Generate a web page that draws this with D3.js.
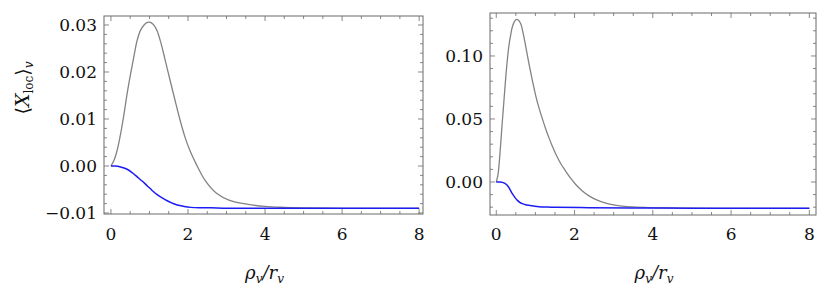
<!DOCTYPE html>
<html>
<head>
<meta charset="utf-8">
<script src="https://cdn.jsdelivr.net/npm/d3@7"></script>
<style>
  body { margin: 0; background: #fff; }
</style>
</head>
<body>
<div id="chart"></div>
<script>
// left panel
const leftGrayX = [0, 0.08, 0.16, 0.25, 0.34, 0.42, 0.51, 0.6, 0.68, 0.77, 0.86, 0.93, 0.99, 1.06, 1.13, 1.2, 1.29, 1.40, 1.53, 1.66, 1.79, 1.92, 2.05, 2.22, 2.44, 2.74, 3.08, 3.52, 4.0, 4.5, 5, 6, 7, 8]
const leftGrayY = [0, 0.0012, 0.0033, 0.0068, 0.0111, 0.0154, 0.0196, 0.0235, 0.0267, 0.0289, 0.0300, 0.0305, 0.0306, 0.0304, 0.0298, 0.0287, 0.0264, 0.0228, 0.0184, 0.0141, 0.0099, 0.0062, 0.0033, 0.0003, -0.0030, -0.0058, -0.0073, -0.0081, -0.0086, -0.0088, -0.0089, -0.0090, -0.0090, -0.0090]
const leftBlueX = [0, 0.1, 0.25, 0.42, 0.55, 0.68, 0.81, 0.94, 1.07, 1.2, 1.33, 1.46, 1.59, 1.72, 1.9, 2.07, 2.3, 2.59, 3.0, 3.97, 5, 6, 7, 8]
const leftBlueY = [0, 0, -0.0002, -0.0007, -0.0014, -0.0023, -0.0032, -0.0042, -0.0052, -0.0061, -0.0068, -0.0074, -0.0079, -0.0083, -0.0086, -0.0088, -0.0089, -0.0089, -0.0090, -0.0090, -0.0090, -0.0090, -0.0090, -0.0090]

// right panel
const rightGrayX = [0, 0.04, 0.07, 0.11, 0.154, 0.2, 0.24, 0.28, 0.325, 0.37, 0.41, 0.46, 0.512, 0.56, 0.623, 0.69, 0.75, 0.81, 0.878, 0.94, 1.006, 1.09, 1.177, 1.26, 1.35, 1.43, 1.52, 1.65, 1.78, 1.9, 2.03, 2.2, 2.37, 2.58, 2.8, 3.0, 3.22, 3.5, 3.9, 4.5, 5, 6, 7, 8]
const rightGrayY = [0, 0.005, 0.0132, 0.029, 0.0476, 0.066, 0.082, 0.096, 0.1085, 0.117, 0.123, 0.127, 0.129, 0.1285, 0.1257, 0.1175, 0.108, 0.098, 0.0873, 0.078, 0.0688, 0.059, 0.0503, 0.0425, 0.0348, 0.0286, 0.0222, 0.0145, 0.0083, 0.0030, -0.0020, -0.0071, -0.0110, -0.0144, -0.0167, -0.0181, -0.0191, -0.0198, -0.0203, -0.0206, -0.0208, -0.0209, -0.0209, -0.0209]
const rightBlueX = [0, 0.1, 0.154, 0.22, 0.28, 0.345, 0.41, 0.475, 0.54, 0.6, 0.665, 0.75, 0.835, 0.96, 1.09, 1.3, 1.52, 2.37, 3.5, 5, 6, 7, 8]
const rightBlueY = [0, 0, -0.0003, -0.0011, -0.0026, -0.0056, -0.0093, -0.0122, -0.0146, -0.0162, -0.0172, -0.0180, -0.0185, -0.0191, -0.0196, -0.0199, -0.0201, -0.0204, -0.0206, -0.0208, -0.0209, -0.0209, -0.0209]

const xTicks = [0, 2, 4, 6, 8]
const leftYTicks = [-0.01, 0.00, 0.01, 0.02, 0.03]
const rightYTicks = [0.00, 0.05, 0.10]

const width = 830
const height = 296
const serif = "DejaVu Serif"

const svg = d3.select("#chart")
  .append("svg")
  .attr("width", width)
  .attr("height", height)

const zip = (xs, ys) => xs.map((x, i) => [x, ys[i]])

const fmt = v => (v < 0 ? "\u2212" : "") + Math.abs(v).toFixed(2)

function panel(opts) {
  const x = d3.scaleLinear().domain(opts.xDomain).range([opts.left, opts.right])
  const y = d3.scaleLinear().domain(opts.yDomain).range([opts.bottom, opts.top])
  const g = svg.append("g")
  const frameColor = "#6a6a6a"

  // minor ticks every 0.5 on x, majors longer
  const xMinor = d3.range(0, 8.01, 0.5)
  const ys = []
  for (let v = Math.ceil(opts.yDomain[0] / opts.yMinorStep - 1e-6) * opts.yMinorStep; v <= opts.yDomain[1]; v += opts.yMinorStep) ys.push(+v.toFixed(5))

  const tickG = g.append("g").attr("stroke", frameColor).attr("stroke-width", 0.8)
  xMinor.forEach(v => {
    const len = xTicks.includes(v) ? 5 : 3
    tickG.append("line").attr("x1", x(v)).attr("x2", x(v)).attr("y1", opts.bottom).attr("y2", opts.bottom - len)
    tickG.append("line").attr("x1", x(v)).attr("x2", x(v)).attr("y1", opts.top).attr("y2", opts.top + len)
  })
  ys.forEach(v => {
    const major = opts.yTicks.some(t => Math.abs(t - v) < 1e-6)
    const len = major ? 5 : 3
    tickG.append("line").attr("y1", y(v)).attr("y2", y(v)).attr("x1", opts.left).attr("x2", opts.left + len)
    tickG.append("line").attr("y1", y(v)).attr("y2", y(v)).attr("x1", opts.right).attr("x2", opts.right - len)
  })

  g.append("rect")
    .attr("x", opts.left).attr("y", opts.top)
    .attr("width", opts.right - opts.left).attr("height", opts.bottom - opts.top)
    .attr("fill", "none").attr("stroke", frameColor).attr("stroke-width", 1)

  // tick labels
  g.selectAll(".xl").data(xTicks).enter().append("text")
    .attr("x", d => x(d)).attr("y", 240)
    .attr("text-anchor", "middle").attr("font-size", 17).attr("fill", "#111")
    .attr("font-family", serif)
    .text(d => d)
  g.selectAll(".yl").data(opts.yTicks).enter().append("text")
    .attr("x", opts.left - 7).attr("y", d => y(d) + 6)
    .attr("text-anchor", "end").attr("font-size", 17).attr("fill", "#111")
    .attr("font-family", serif)
    .text(fmt)

  const line = d3.line().x(d => x(d[0])).y(d => y(d[1])).curve(d3.curveCatmullRom.alpha(0.5))

  g.append("path").datum(zip(opts.grayX, opts.grayY))
    .attr("d", line).attr("fill", "none").attr("stroke", "#838383").attr("stroke-width", 1.3)
  g.append("path").datum(zip(opts.blueX, opts.blueY))
    .attr("d", line).attr("fill", "none").attr("stroke", "#1c1cf5").attr("stroke-width", 1.5)

  // x axis label
  const lab = g.append("text")
    .attr("x", (opts.left + opts.right) / 2 + 1).attr("y", 279)
    .attr("text-anchor", "middle").attr("font-size", 18).attr("font-style", "italic").attr("fill", "#111")
    .attr("font-family", serif)
  lab.append("tspan").text("\u03c1")
  lab.append("tspan").attr("font-size", 12).attr("dy", 4).text("v")
  lab.append("tspan").attr("dy", -4).text("/r")
  lab.append("tspan").attr("font-size", 12).attr("dy", 4).text("v")
}

panel({
  left: 104, right: 423, top: 16, bottom: 214,
  xDomain: [-0.18, 8.1], yDomain: [-0.01021, 0.03191],
  yTicks: leftYTicks, yMinorStep: 0.002,
  grayX: leftGrayX, grayY: leftGrayY, blueX: leftBlueX, blueY: leftBlueY
})

panel({
  left: 490, right: 816, top: 13, bottom: 215,
  xDomain: [-0.16, 8.17], yDomain: [-0.0262, 0.1341],
  yTicks: rightYTicks, yMinorStep: 0.01,
  grayX: rightGrayX, grayY: rightGrayY, blueX: rightBlueX, blueY: rightBlueY
})

// y axis label, left panel only
const yl = svg.append("text")
  .attr("transform", "translate(29,88) rotate(-90)")
  .attr("text-anchor", "middle").attr("font-size", 19).attr("fill", "#111")
  .attr("font-family", serif)
yl.append("tspan").text("\u27e8")
yl.append("tspan").attr("font-style", "italic").text("X")
yl.append("tspan").attr("font-size", 12).attr("dy", 4).text("loc")
yl.append("tspan").attr("dy", -4).text("\u27e9")
yl.append("tspan").attr("font-size", 12).attr("font-style", "italic").attr("dy", 4).text("v")
</script>
</body>
</html>
